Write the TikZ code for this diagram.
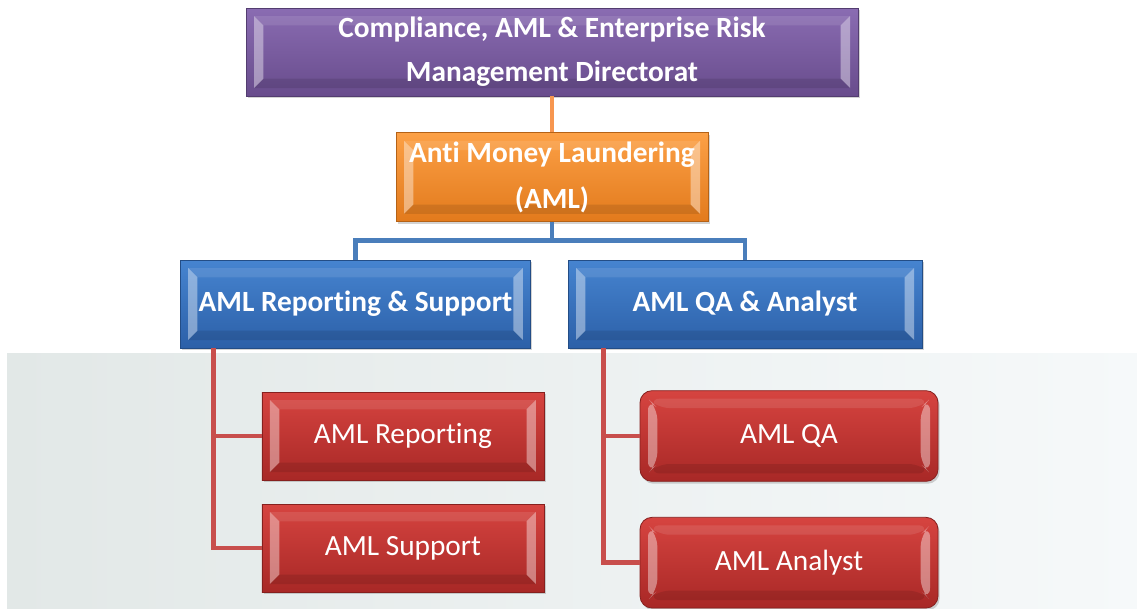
\documentclass[tikz,border=0pt]{standalone}
\usepackage{fontspec}
\setmainfont[Ligatures=NoCommon]{Carlito}
\usetikzlibrary{positioning, shadows}

\definecolor{purpleL}{RGB}{138,108,178}
\definecolor{purpleD}{RGB}{104,76,140}
\definecolor{orangeL}{RGB}{252,160,70}
\definecolor{orangeD}{RGB}{226,122,28}
\definecolor{blueL}{RGB}{70,132,208}
\definecolor{blueD}{RGB}{44,96,168}
\definecolor{redL}{RGB}{214,68,64}
\definecolor{redD}{RGB}{168,40,38}
\definecolor{lineOrange}{RGB}{247,150,80}
\definecolor{lineBlue}{RGB}{74,126,187}
\definecolor{lineRed}{RGB}{200,78,76}
\definecolor{bgLeft}{RGB}{226,232,231}
\definecolor{bgMid}{RGB}{244,246,247}
\definecolor{bgRight}{RGB}{246,249,250}

\tikzset{
  bevel/.style={path picture={
    \fill[white, opacity=0.4]
      ([shift={(6pt,-6pt)}]path picture bounding box.north west) --
      ([shift={(6pt,6pt)}]path picture bounding box.south west) --
      ([shift={(13pt,13pt)}]path picture bounding box.south west) --
      ([shift={(13pt,-13pt)}]path picture bounding box.north west) -- cycle;
    \fill[white, opacity=0.4]
      ([shift={(-6pt,-6pt)}]path picture bounding box.north east) --
      ([shift={(-6pt,6pt)}]path picture bounding box.south east) --
      ([shift={(-13pt,13pt)}]path picture bounding box.south east) --
      ([shift={(-13pt,-13pt)}]path picture bounding box.north east) -- cycle;
    \fill[white, opacity=0.1]
      ([shift={(6pt,-6pt)}]path picture bounding box.north west) --
      ([shift={(-6pt,-6pt)}]path picture bounding box.north east) --
      ([shift={(-13pt,-13pt)}]path picture bounding box.north east) --
      ([shift={(13pt,-13pt)}]path picture bounding box.north west) -- cycle;
    \fill[black, opacity=0.1]
      ([shift={(6pt,6pt)}]path picture bounding box.south west) --
      ([shift={(-6pt,6pt)}]path picture bounding box.south east) --
      ([shift={(-13pt,13pt)}]path picture bounding box.south east) --
      ([shift={(13pt,13pt)}]path picture bounding box.south west) -- cycle;
  }},
  chartbox/.style={rectangle, text=white, align=center, inner sep=0pt,
    line width=0.6pt, bevel,
    drop shadow={opacity=0.35, shadow xshift=1.2pt, shadow yshift=-1.8pt}},
  purplebox/.style={chartbox, draw=purpleD!80!black, top color=purpleL, bottom color=purpleD,
    minimum width=459pt, minimum height=66pt,
    font=\fontsize{22}{33}\selectfont\bfseries},
  orangebox/.style={chartbox, draw=orangeD!80!black, top color=orangeL, bottom color=orangeD,
    minimum width=234pt, minimum height=66.75pt,
    font=\fontsize{22}{34}\selectfont\bfseries},
  bluebox/.style={chartbox, draw=blueD!80!black, top color=blueL, bottom color=blueD,
    minimum height=66pt, font=\fontsize{22}{33}\selectfont\bfseries},
  redbox/.style={chartbox, draw=redD!80!black, top color=redL, bottom color=redD,
    minimum width=211.5pt, minimum height=66pt, font=\fontsize{22}{33}\selectfont},
  redround/.style={redbox, rounded corners=9pt, minimum width=223.5pt, minimum height=68pt},
  link/.style={line width=3.6pt}
}

\begin{document}
\begin{tikzpicture}[x=0.75pt, y=-0.75pt, on grid]
  \useasboundingbox (0,0) rectangle (1137,608);

  % Fondo de la foto
  \shade[left color=bgLeft, middle color=bgMid, right color=bgRight] (7,353) rectangle (1137,608);

  % Nodos del organigrama
  \node[purplebox] (cdir) at (552,52) {Compliance, AML \& Enterprise Risk\\Management Directorat};
  \node[orangebox] (aml) [below=94pt of cdir] {Anti Money Laundering\\(AML)};
  \node[bluebox, minimum width=263pt] (reps) [below left=95pt and 147.4pt of aml] {AML Reporting \& Support};
  \node[bluebox, minimum width=265.5pt] (qaan) [below right=95pt and 144.75pt of aml] {AML QA \& Analyst};
  \node[redbox] (report) [below right=99pt and 35.6pt of reps] {AML Reporting};
  \node[redbox] (support) [below=84pt of report] {AML Support};
  \node[redround] (qa) [below right=99pt and 33pt of qaan] {AML QA};
  \node[redround] (analyst) [below=95pt of qa] {AML Analyst};

  % Conexiones
  \draw[link, lineOrange] (cdir) -- (aml);
  \draw[link, lineBlue] (aml.south) -- ++(0,-13.5pt) coordinate (bus) -| (reps.north);
  \draw[link, lineBlue] (bus) -| (qaan.north);
  \draw[link, lineRed] ([xshift=25.5pt]reps.south west) |- (report.west);
  \draw[link, lineRed] ([xshift=25.5pt]reps.south west) |- (support.west);
  \draw[link, lineRed] ([xshift=27pt]qaan.south west) |- (qa.west);
  \draw[link, lineRed] ([xshift=27pt]qaan.south west) |- (analyst.west);

\end{tikzpicture}
\end{document}
